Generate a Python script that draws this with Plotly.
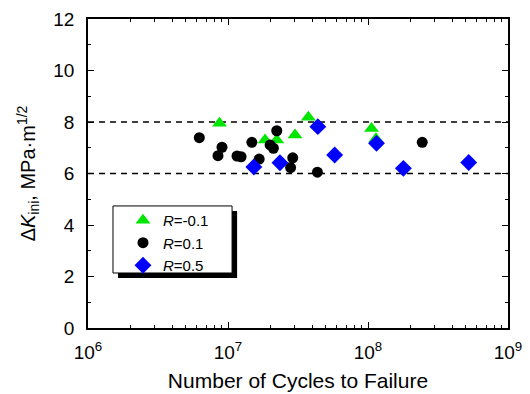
import plotly.graph_objects as go

# Data
cycles_rm01 = [8.7e6, 1.84e7, 2.23e7, 3.01e7, 3.75e7, 1.06e8, 1.14e8]
dk_rm01 = [7.95, 7.3, 7.3, 7.5, 8.18, 7.75, 7.35]

cycles_r01 = [6.24e6, 9.06e6, 8.48e6, 1.16e7, 1.24e7, 1.48e7, 1.67e7, 2.23e7,
              2.0e7, 2.11e7, 2.9e7, 2.8e7, 4.35e7, 2.44e8]
dk_r01 = [7.39, 7.02, 6.69, 6.68, 6.65, 7.21, 6.56, 7.66,
          7.11, 6.98, 6.61, 6.23, 6.05, 7.21]

cycles_r05 = [1.53e7, 2.35e7, 4.38e7, 5.78e7, 1.15e8, 1.79e8, 5.24e8]
dk_r05 = [6.25, 6.42, 7.82, 6.72, 7.17, 6.2, 6.43]

band_x = [1e6, 1e9]
band_upper = [8, 8]
band_lower = [6, 6]

x_tickvals = [1e6, 1e7, 1e8, 1e9]
x_ticktext = ["10<sup>6</sup>", "10<sup>7</sup>", "10<sup>8</sup>", "10<sup>9</sup>"]
x_minor = [m * 10 ** e for e in (6, 7, 8) for m in range(2, 10)]

FONT = "Liberation Sans, Arial, sans-serif"

fig = go.Figure()

for yv in (band_upper, band_lower):
    fig.add_trace(go.Scatter(x=band_x, y=yv, mode="lines", showlegend=False,
                             hoverinfo="skip",
                             line=dict(color="black", width=1.5, dash="6px,5px")))

fig.add_trace(go.Scatter(x=cycles_rm01, y=dk_rm01, mode="markers", name="<i>R</i>=-0.1",
                         marker=dict(symbol="triangle-up", size=13, color="#00E600")))
fig.add_trace(go.Scatter(x=cycles_r01, y=dk_r01, mode="markers", name="<i>R</i>=0.1",
                         marker=dict(symbol="circle", size=11, color="black")))
fig.add_trace(go.Scatter(x=cycles_r05, y=dk_r05, mode="markers", name="<i>R</i>=0.5",
                         marker=dict(symbol="diamond", size=13, color="#0000FF")))

# legend box with shadow
fig.add_shape(type="rect", xref="paper", yref="paper", x0=0.0714, x1=0.355,
              y0=0.162, y1=0.379, fillcolor="black", line=dict(width=0), layer="below")
fig.add_shape(type="rect", xref="paper", yref="paper", x0=0.0595, x1=0.343,
              y0=0.178, y1=0.395, fillcolor="white", line=dict(color="black", width=1),
              layer="below")

fig.update_layout(
    width=530, height=394,
    margin=dict(l=88, r=22, t=19, b=66, autoexpand=False),
    paper_bgcolor="white", plot_bgcolor="white",
    font=dict(family=FONT, size=16, color="black"),
    showlegend=True,
    legend=dict(x=0.0833, y=0.4015, xanchor="left", yanchor="top",
                bgcolor="rgba(0,0,0,0)", borderwidth=0,
                font=dict(family=FONT, size=15, color="black"),
                itemwidth=30, tracegroupgap=0),
    xaxis=dict(type="log", range=[6, 9], tickmode="array", tickvals=x_tickvals,
               ticktext=x_ticktext, ticks="inside", ticklen=6, tickwidth=1,
               tickcolor="black", showline=True, linecolor="black", linewidth=1.5,
               mirror="allticks", showgrid=False, zeroline=False, automargin=False,
               minor=dict(tickmode="array", tickvals=x_minor, ticks="inside",
                          ticklen=3, tickcolor="black", showgrid=False),
               ticklabelstandoff=6,
               title=dict(text="Number of Cycles to Failure", standoff=12,
                          font=dict(size=21)),
               tickfont=dict(size=19)),
    yaxis=dict(range=[0, 12], dtick=2, tick0=0, ticks="inside", ticklen=6,
               tickwidth=1, tickcolor="black", showline=True, linecolor="black",
               linewidth=1.5, mirror="allticks", showgrid=False, zeroline=False,
               automargin=False,
               minor=dict(dtick=1, ticks="inside", ticklen=3, tickcolor="black",
                          showgrid=False),
               ticklabelstandoff=8,
               title=dict(text="Δ<i>K</i><sub>ini</sub>, MPa·m<sup>1/2</sup>",
                          standoff=12, font=dict(size=20)),
               tickfont=dict(size=19)),
)

fig.write_html("out.html")
